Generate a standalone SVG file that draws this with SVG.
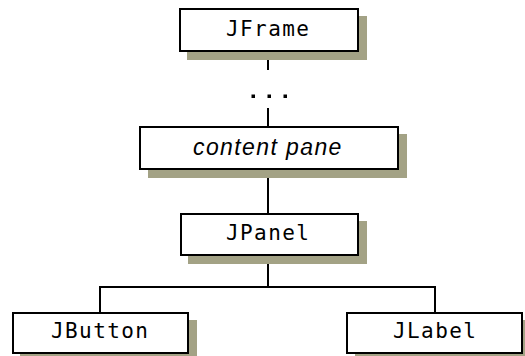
<svg xmlns="http://www.w3.org/2000/svg" width="525" height="356" viewBox="0 0 525 356">
  <style>
    .shadow { fill: #a3a285; stroke: none; }
    .box { fill: #ffffff; stroke: #000000; stroke-width: 2; }
    .mono { font-family: "DejaVu Sans Mono", "Liberation Mono", monospace; font-size: 21px; letter-spacing: 1.4px; fill: #000000; }
    .ital { font-family: "Liberation Sans", Arial, sans-serif; font-style: italic; font-size: 23px; letter-spacing: 1.4px; fill: #000000; }
    .conn { fill: none; stroke: #000000; stroke-width: 2; }
    .dot { fill: #000000; }
  </style>
  <rect width="525" height="356" fill="#ffffff"/>
  <g id="connectors">
    <line class="conn" x1="268" y1="52" x2="268" y2="70"/>
    <rect class="dot" x="251.5" y="94.5" width="3.5" height="3.5"/>
    <rect class="dot" x="267.5" y="94.5" width="3.5" height="3.5"/>
    <rect class="dot" x="283.5" y="94.5" width="3.5" height="3.5"/>
    <line class="conn" x1="268" y1="108" x2="268" y2="126"/>
    <line class="conn" x1="268" y1="170" x2="268" y2="213"/>
    <line class="conn" x1="268" y1="256" x2="268" y2="287"/>
    <polyline class="conn" points="100,312 100,287 435,287 435,312"/>
  </g>
  <g id="jframe">
    <rect class="shadow" x="187" y="16" width="180" height="44"/>
    <rect class="box" x="180" y="9" width="178" height="42"/>
    <text class="mono" x="226" y="36">JFrame</text>
  </g>
  <g id="content-pane">
    <rect class="shadow" x="148" y="134" width="259" height="44"/>
    <rect class="box" x="140" y="127" width="258" height="42"/>
    <text class="ital" x="193" y="155">content pane</text>
  </g>
  <g id="jpanel">
    <rect class="shadow" x="188" y="221" width="179" height="43"/>
    <rect class="box" x="181" y="214" width="177" height="41"/>
    <text class="mono" x="226" y="240">JPanel</text>
  </g>
  <g id="jbutton">
    <rect class="shadow" x="20" y="320" width="177" height="40"/>
    <rect class="box" x="13" y="313" width="175" height="40"/>
    <text class="mono" x="51" y="338">JButton</text>
  </g>
  <g id="jlabel">
    <rect class="shadow" x="355" y="320" width="177" height="40"/>
    <rect class="box" x="347" y="313" width="175" height="40"/>
    <text class="mono" x="393" y="338">JLabel</text>
  </g>
</svg>
